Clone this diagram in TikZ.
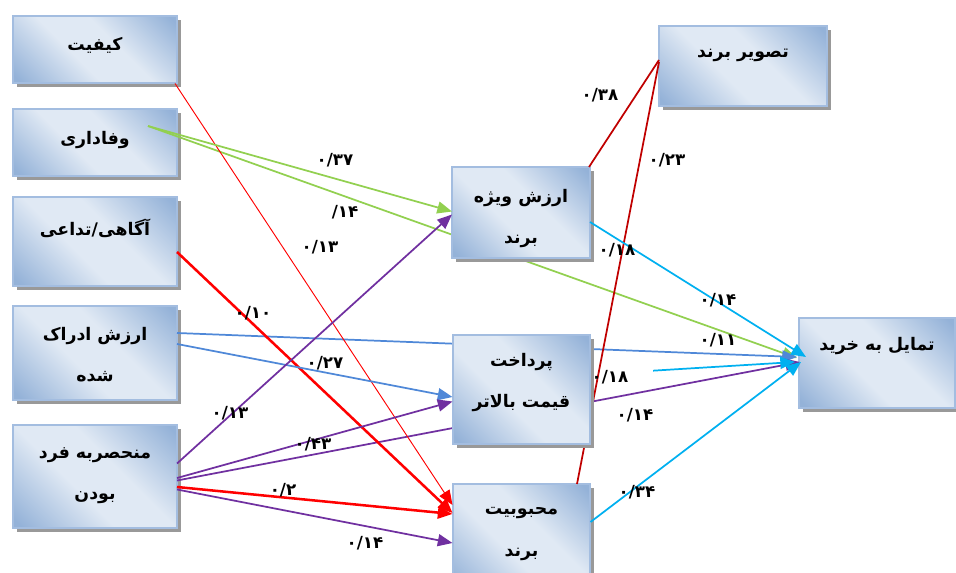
\documentclass[tikz,border=0pt]{standalone}
\usepackage{fontspec}
\usetikzlibrary{arrows.meta,shadows,calc}
\TeXXeTstate=1
\newfontfamily\fa[Script=Arabic]{DejaVu Sans}
\newfontfamily\fanum{DejaVu Sans}
\definecolor{bxdark}{HTML}{94B2D8}
\definecolor{bxlight}{HTML}{E0E9F4}
\definecolor{bxedge}{HTML}{A3BDE0}
\definecolor{cgreen}{HTML}{92D050}
\definecolor{cblue}{HTML}{4F88D8}
\definecolor{cpurple}{HTML}{7030A0}
\definecolor{cred}{HTML}{FF0000}
\definecolor{cdred}{HTML}{C00000}
\definecolor{ccyan}{HTML}{00B0F0}
% diagonal light band across each box, darker towards two corners
\pgfdeclarehorizontalshading{boxshade}{100bp}{color(0bp)=(bxdark); color(17bp)=(bxdark); color(42bp)=(bxlight); color(58bp)=(bxlight); color(83bp)=(bxdark); color(100bp)=(bxdark)}
\tikzset{
  box/.style 2 args={rectangle, draw=bxedge, line width=1.4pt,
    shading=boxshade, shading angle=45,
    minimum width=#1*0.75pt, minimum height=#2*0.75pt, inner sep=0pt, outer sep=0pt,
    drop shadow={shadow xshift=3.2pt, shadow yshift=-3.2pt, fill=black!40, opacity=1}},
  boxtext/.style={font=\fa\bfseries\fontsize{13}{31}\selectfont, align=center, inner sep=0pt},
  val/.style={font=\fanum\bfseries\fontsize{12.5}{14}\selectfont, inner sep=1pt},
  conn/.style={line width=1.3pt},
  thinconn/.style={line width=0.7pt},
  thickconn/.style={line width=1.9pt},
  tip/.style={-{Triangle[length=11pt,width=9pt]}}
}
\begin{document}
\begin{tikzpicture}[x=0.75pt,y=-0.75pt]
\useasboundingbox (0,0) rectangle (956,573);
\clip (0,0) rectangle (956,573);
\fill[white] (0,0) rectangle (956,573);

% left column
\node[box={164}{67}] (kif) at (95,49.5) {};
\node[boxtext] (kif-t) at ($(kif.center)+(0,-4.5)$) {\beginR کیفیت\endR};
\node[box={164}{67}] (wafa) at (95,142.5) {};
\node[boxtext] (wafa-t) at ($(wafa.center)+(0,-2.5)$) {\beginR وفاداری\endR};
\node[box={164}{89}] (agah) at (95,241.5) {};
\node[boxtext] (agah-t) at ($(agah.center)+(0,-13.5)$) {\beginR آگاهی/تداعی\endR};
\node[box={164}{94}] (edrak) at (95,353) {};
\node[boxtext] (edrak-t) at ($(edrak.center)+(0,2)$) {\beginR ارزش ادراک\endR\\\beginR شده\endR};
\node[box={164}{103}] (monh) at (95,476.5) {};
\node[boxtext] (monh-t) at ($(monh.center)+(0,-0.5)$) {\beginR منحصربه فرد\endR\\\beginR بودن\endR};

% right side
\node[box={168}{80}] (tasvir) at (743,66) {};
\node[boxtext] (tasvir-t) at ($(tasvir.center)+(0,-11)$) {\beginR تصویر برند\endR};
\node[box={156}{90}] (tamayol) at (877,363) {};
\node[boxtext] (tamayol-t) at ($(tamayol.center)+(0,-17)$) {\beginR تمایل به خرید\endR};
\node[box={137}{106}] (mahb) at (521.5,537) {};
\node[boxtext] (mahb-t) at ($(mahb.center)+(0,-3)$) {\beginR محبوبیت\endR\\\beginR برند\endR};

% paths running behind the middle boxes
\draw[conn, cgreen, tip] ($(wafa.center)+(53,-16.5)$) -- ($(tamayol.center)+(-80,-5)$);
\draw[conn, cblue, tip] ($(edrak.center)+(82,-20)$) -- ($(tamayol.center)+(-80,-6)$);
\draw[conn, cpurple, tip] ($(monh.center)+(82,4)$) -- ($(tamayol.center)+(-77,-1)$);
\draw[conn, cdred] ($(mahb.center)+(55.5,-53)$) -- ($(tasvir.center)+(-84,-4)$);

% middle column
\node[box={138}{91}] (arzesh) at (521,212.5) {};
\node[boxtext] (arzesh-t) at ($(arzesh.center)+(0,6)$) {\beginR ارزش ویژه\endR\\\beginR برند\endR};
\node[box={137}{109}] (pard) at (521.5,389.5) {};
\node[boxtext] (pard-t) at ($(pard.center)+(0,-7)$) {\beginR پرداخت\endR\\\beginR قیمت بالاتر\endR};

% remaining paths
\draw[thinconn, cred, tip] ($(kif.center)+(80,34)$) -- ($(mahb.center)+(-69,-32)$);
\draw[conn, cgreen, tip] ($(wafa.center)+(53,-16.5)$) -- ($(arzesh.center)+(-69,-1)$);
\draw[thickconn, cred, tip] ($(agah.center)+(82,10.5)$) -- ($(mahb.center)+(-69,-24)$);
\draw[conn, cblue, tip] ($(edrak.center)+(82,-9)$) -- ($(pard.center)+(-69,7.5)$);
\draw[conn, cpurple, tip] ($(monh.center)+(82,-13)$) -- ($(arzesh.center)+(-69,2)$);
\draw[conn, cpurple, tip] ($(monh.center)+(82,1.5)$) -- ($(pard.center)+(-69,12)$);
\draw[thickconn, cred, tip] ($(monh.center)+(82,10.5)$) -- ($(mahb.center)+(-69,-23)$);
\draw[conn, cpurple, tip] ($(monh.center)+(82,13)$) -- ($(mahb.center)+(-69,6)$);
\draw[conn, cdred] ($(arzesh.center)+(68,-45.5)$) -- ($(tasvir.center)+(-84,-6)$);
\draw[conn, ccyan, tip] ($(arzesh.center)+(69,9.5)$) -- ($(tamayol.center)+(-71,-6)$);
\draw[conn, ccyan, tip, shorten <=47pt] ($(pard.center)+(69,-15)$) -- ($(tamayol.center)+(-82,-1)$);
\draw[conn, ccyan, tip] ($(mahb.center)+(69,-15)$) -- ($(tamayol.center)+(-76,-1)$);

% path coefficients
\node[val] (v1)  at (320,247) {۰/۱۳};
\node[val] (v2)  at (335,160) {۰/۳۷};
\node[val] (v3)  at (345,212) {/۱۴};
\node[val] (v4)  at (253,313) {۰/۱۰};
\node[val] (v5)  at (325,363) {۰/۲۷};
\node[val] (v6)  at (230,413) {۰/۱۳};
\node[val] (v7)  at (313,444) {۰/۴۳};
\node[val] (v8)  at (283,490) {۰/۲};
\node[val] (v9)  at (365,543) {۰/۱۴};
\node[val] (v10) at (600,95)  {۰/۳۸};
\node[val] (v11) at (667,160) {۰/۲۳};
\node[val] (v12) at (617,250) {۰/۱۸};
\node[val] (v13) at (718,300) {۰/۱۴};
\node[val] (v14) at (718,340) {۰/۱۱};
\node[val] (v15) at (610,377) {۰/۱۸};
\node[val] (v16) at (635,415) {۰/۱۴};
\node[val] (v17) at (637,492) {۰/۳۴};
\end{tikzpicture}
\end{document}
